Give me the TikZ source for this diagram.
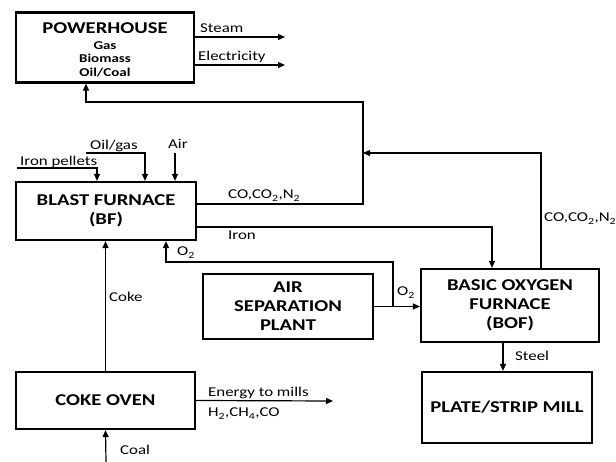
\documentclass[tikz,border=0pt]{standalone}
\usepackage{fontspec}
\setmainfont{Carlito}[FakeStretch=1.25]
\usetikzlibrary{arrows.meta}

\tikzset{
  unitbox/.style={draw,line width=2.2pt,align=center,inner sep=2pt,
    font=\bfseries\fontsize{16.5}{19}\selectfont},
  flow/.style={line width=1.2pt},
  lbl/.style={font=\fontsize{13.5}{15}\selectfont,inner sep=0pt,anchor=base west},
}

\begin{document}
\begin{tikzpicture}[x=1pt,y=-1pt,>={Triangle[length=7pt,width=6pt]}]
    \useasboundingbox[fill=white] (0,0) rectangle (616,462);

    % process units
    \node[unitbox,minimum width=178pt,minimum height=65pt] (ph) at (105,47.5)
        {\rule{0pt}{19pt}POWERHOUSE\\[-3pt]{\fontsize{12}{13.5}\selectfont\begin{tabular}[t]{@{}c@{}}Gas\\Biomass\\Oil/Coal\end{tabular}}};
    \node[unitbox,minimum width=180pt,minimum height=58pt] (bf) at (106,211) {BLAST FURNACE\\(BF)};
    \node[unitbox,minimum width=170pt,minimum height=65pt] (asp) at (288,306.5) {AIR\\SEPARATION\\PLANT};
    \node[unitbox,minimum width=178pt,minimum height=73pt] (bof) at (510,305.5) {BASIC OXYGEN\\FURNACE\\(BOF)};
    \node[unitbox,minimum width=170pt,minimum height=71pt] (pm) at (507,407.5) {PLATE/STRIP MILL};
    \node[unitbox,minimum width=179pt,minimum height=57pt] (co) at (105.5,400.5) {COKE OVEN};

    % free ends and bends
    \coordinate (st) at (285,37);
    \coordinate (el) at (285,65);
    \coordinate (jn) at (363,102);
    \coordinate (mg) at (363,153);
    \coordinate (ip) at (17,168);
    \coordinate (og) at (86,153);
    \coordinate (ar) at (175,153);
    \coordinate (oj) at (393,306.5);
    \coordinate (oc) at (393,262);
    \coordinate (en) at (333,401);
    \coordinate (coal) at (106,462);

    % powerhouse outputs
    \draw[flow,->] ([yshift=10.5pt]ph.east) -- (st);
    \draw[flow,->] ([yshift=-17.5pt]ph.east) -- (el);

    % blast furnace inputs
    \draw[flow,->] (ip) -| ([xshift=-9pt]bf.north);
    \draw[flow,->] (og) -| ([xshift=39pt]bf.north);
    \draw[flow,->] (ar) -- ([xshift=69pt]bf.north);

    % off-gas to powerhouse
    \draw[flow,->] ([yshift=7pt]bf.east) -| (jn) -| ([xshift=-19pt]ph.south);
    \draw[flow,->] ([xshift=31pt]bof.north) |- (mg);

    % iron to BOF
    \draw[flow,->] ([yshift=-16pt]bf.east) -| ([xshift=-18pt]bof.north);

    % oxygen
    \draw[flow,->] (asp.east) -- (asp.east -| bof.west);
    \draw[flow,->] (oj) -- (oc) -| ([xshift=60pt]bf.south);

    % coke oven
    \draw[flow,->] (co.north) -- (co.north |- bf.south);
    \draw[flow,->] (coal) -- (co.south);
    \draw[flow,->] (co.east) -- (en);

    % steel
    \draw[flow,->] ([xshift=-7pt]bof.south) -- ([xshift=-7pt]bof.south |- pm.north);

    % labels
    \node[lbl] (lst) at (200,33) {Steam};
    \node[lbl] (lel) at (198,61) {Electricity};
    \node[lbl] (lip) at (20,166) {Iron pellets};
    \node[lbl] (log) at (90,150) {Oil/gas};
    \node[lbl] (lar) at (168,149) {Air};
    \node[lbl] (lco) at (228,199) {CO,CO\textsubscript{2},N\textsubscript{2}};
    \node[lbl] (lir) at (228,240) {Iron};
    \node[lbl] (lo1) at (177,256) {O\textsubscript{2}};
    \node[lbl] (lo2) at (397,296) {O\textsubscript{2}};
    \node[lbl] (lbg) at (544,222) {CO,CO\textsubscript{2},N\textsubscript{2}};
    \node[lbl] (lck) at (109,302) {Coke};
    \node[lbl] (lsl) at (515,361) {Steel};
    \node[lbl] (len) at (208,396) {Energy to mills};
    \node[lbl] (lgs) at (208,417) {H\textsubscript{2},CH\textsubscript{4},CO};
    \node[lbl] (lcl) at (120,454) {Coal};
\end{tikzpicture}
\end{document}
